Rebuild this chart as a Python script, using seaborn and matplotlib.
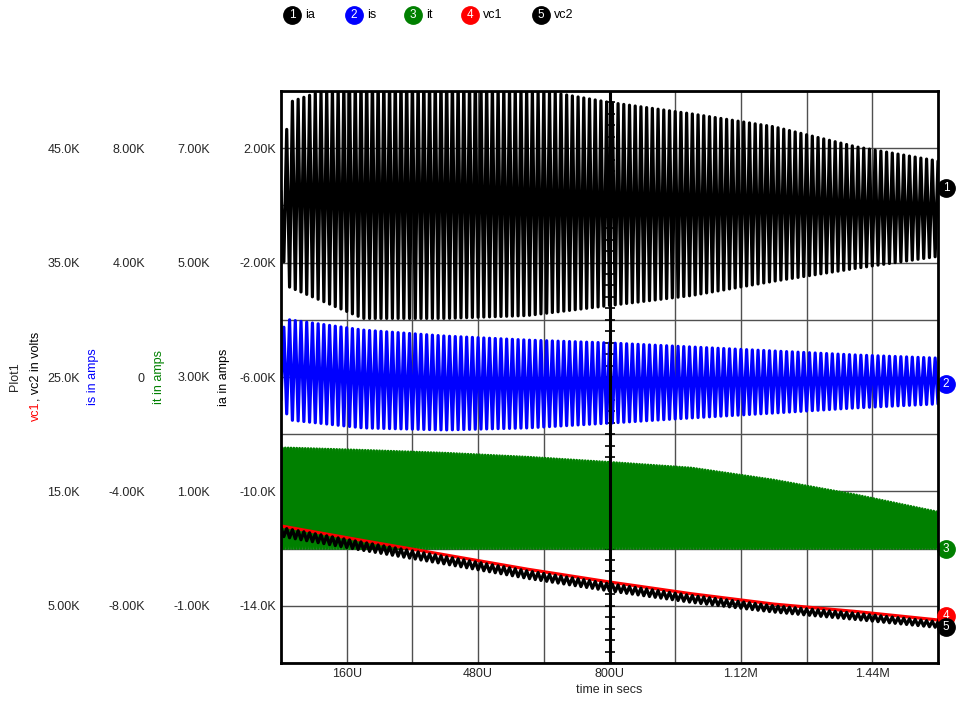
import numpy as np
import pandas as pd
import matplotlib
matplotlib.use("Agg")
import matplotlib.pyplot as plt
import seaborn as sns
from matplotlib.transforms import blended_transform_factory

# ---------------- data (currents/voltages in K, time in microseconds) ----------------
env_t = [0, 20, 200, 400, 600, 800, 1000, 1200, 1400, 1600]
ia_hi = [0.5, 3.6, 4.5, 4.5, 4.1, 3.6, 3.2, 2.75, 2.05, 1.55]
ia_lo = [-1.5, -2.85, -3.95, -3.95, -3.85, -3.5, -3.15, -2.65, -2.2, -1.78]
is_hi = [1.6, 2.0, 1.64, 1.43, 1.29, 1.19, 1.05, 0.91, 0.77, 0.66]
is_lo = [-0.8, -1.5, -1.78, -1.85, -1.78, -1.61, -1.43, -1.26, -1.08, -0.94]
it_hi = [1.76, 1.76, 1.72, 1.67, 1.60, 1.51, 1.41, 1.20, 0.94, 0.64]
it_lo = [0, 0, 0, 0, 0, 0, 0, 0, 0, 0]
vc1 = [11.98, 11.85, 10.70, 9.45, 8.20, 7.08, 6.05, 5.15, 4.50, 3.76]
vc2_hi = [11.85, 11.70, 10.55, 9.30, 8.05, 6.93, 5.90, 5.00, 4.35, 3.60]
vc2_lo = [11.10, 10.95, 9.85, 8.65, 7.40, 6.30, 5.30, 4.45, 3.80, 3.10]
n_cycles = 115

series_names = ["ia", "is", "it", "vc1", "vc2"]
series_colors = ["#000000", "#0000ff", "#008000", "#ff0000", "#000000"]
end_values = [0.61, -0.25, 0.0, 4.1, 3.15]

x_ticks = [160, 480, 800, 1120, 1440]
x_tick_labels = ["160U", "480U", "800U", "1.12M", "1.44M"]
x_grid = [320, 640, 960, 1280]

ia_ticks = [-14, -10, -6, -2, 2]
ia_labels = ["-14.0K", "-10.0K", "-6.00K", "-2.00K", "2.00K"]
it_ticks = [-1, 1, 3, 5, 7]
it_labels = ["-1.00K", "1.00K", "3.00K", "5.00K", "7.00K"]
is_ticks = [-8, -4, 0, 4, 8]
is_labels = ["-8.00K", "-4.00K", "0", "4.00K", "8.00K"]
vc_ticks = [5, 15, 25, 35, 45]
vc_labels = ["5.00K", "15.0K", "25.0K", "35.0K", "45.0K"]

# ---------------- build traces (alternate between read envelopes) ----------------
def zigzag(hi, lo, n_seg, start_lo=False):
    t = np.linspace(0, 1600, n_seg + 1)
    h = np.interp(t, env_t, hi)
    l = np.interp(t, env_t, lo)
    idx = np.arange(n_seg + 1) % 2
    if start_lo:
        y = np.where(idx == 0, l, h)
    else:
        y = np.where(idx == 0, h, l)
    return t, y

t_ia, y_ia = zigzag(ia_hi, ia_lo, 2 * n_cycles)
t_is, y_is = zigzag(is_hi, is_lo, 2 * n_cycles, start_lo=True)
t_it, y_it = zigzag(it_hi, it_lo, 4 * n_cycles, start_lo=True)
t_v2, y_v2 = zigzag(vc2_hi, vc2_lo, 2 * n_cycles)
df_ia = pd.DataFrame({"t": t_ia, "v": y_ia})
df_is = pd.DataFrame({"t": t_is, "v": y_is})
df_it = pd.DataFrame({"t": t_it, "v": y_it})
df_v1 = pd.DataFrame({"t": env_t, "v": vc1})
df_v2 = pd.DataFrame({"t": t_v2, "v": y_v2})

# ---------------- figure ----------------
sns.set_style("white")
plt.rcParams["font.family"] = ["Liberation Sans", "DejaVu Sans"]
FS = 9

W, H = 959, 702
fig = plt.figure(figsize=(W / 100, H / 100), dpi=100)
L, R, T, B = 281, 938, 91, 663
rect = [L / W, 1 - B / H, (R - L) / W, (B - T) / H]

ax_ia = fig.add_axes(rect)
ax_is = fig.add_axes(rect)
ax_it = fig.add_axes(rect)
ax_vc = fig.add_axes(rect)
all_axes = [ax_ia, ax_is, ax_it, ax_vc]

for a in all_axes:
    a.set_xlim(0, 1600)
    for s in a.spines.values():
        s.set_visible(False)
    a.tick_params(length=0, labelsize=FS)
    if a is not ax_ia:
        a.patch.set_visible(False)
        a.set_xticks([])

ax_ia.set_ylim(-16, 4)
ax_is.set_ylim(-10, 10)
ax_it.set_ylim(-2, 8)
ax_vc.set_ylim(0, 50)

# gridlines & ticks
ax_ia.set_xticks(x_ticks)
ax_ia.set_xticklabels(x_tick_labels)
ax_ia.set_xticks(x_grid, minor=True)
ax_ia.set_yticks(ia_ticks)
ax_ia.set_yticklabels(ia_labels)
ax_ia.set_yticks([-16, -12, -8, -4, 0, 4], minor=True)
ax_ia.tick_params(which="both", length=0)
ax_ia.grid(True, which="both", color="#505050", linewidth=1.0, zorder=0)
ax_ia.set_axisbelow(True)
ax_ia.tick_params(axis="x", pad=3.5)
ax_ia.tick_params(axis="y", pad=3.6)

ax_it.set_yticks(it_ticks)
ax_it.set_yticklabels(it_labels)
ax_it.tick_params(axis="y", pad=51)
ax_is.set_yticks(is_ticks)
ax_is.set_yticklabels(is_labels)
ax_is.tick_params(axis="y", pad=98)
ax_vc.set_yticks(vc_ticks)
ax_vc.set_yticklabels(vc_labels)
ax_vc.tick_params(axis="y", pad=144.7)

# ticks on the center axis (under the traces)
ax_ia.plot([800] * 51, np.linspace(-16, 4, 51), linestyle="none", marker="_",
           markersize=6.5, markeredgewidth=1.2, color="black", zorder=1)

lw = 2.3
sns.lineplot(data=df_ia, x="t", y="v", ax=ax_ia, color=series_colors[0], lw=lw,
             estimator=None, sort=False, legend=False)
sns.lineplot(data=df_is, x="t", y="v", ax=ax_is, color=series_colors[1], lw=lw,
             estimator=None, sort=False, legend=False)
sns.lineplot(data=df_it, x="t", y="v", ax=ax_it, color=series_colors[2], lw=2.0,
             estimator=None, sort=False, legend=False)
sns.lineplot(data=df_v1, x="t", y="v", ax=ax_vc, color=series_colors[3], lw=2.3,
             estimator=None, sort=False, legend=False)
sns.lineplot(data=df_v2, x="t", y="v", ax=ax_vc, color=series_colors[4], lw=2.3,
             estimator=None, sort=False, legend=False)
for a in all_axes:
    a.set_xlabel("")
    a.set_ylabel("")

# center axis and frame
ax_vc.axvline(800, color="black", lw=2.2, zorder=10)
for s in ax_vc.spines.values():
    s.set_visible(True)
    s.set_color("black")
    s.set_linewidth(2.0)
    s.set_zorder(11)

# end markers on right side
ends_axes = [ax_ia, ax_is, ax_it, ax_vc, ax_vc]
xm = 1 + 8 / (R - L)
for i, (a, val, col) in enumerate(zip(ends_axes, end_values, series_colors)):
    tr = blended_transform_factory(a.transAxes, a.transData)
    a.plot([xm], [val], marker="o", ms=12.5, color=col, transform=tr,
           clip_on=False, zorder=20 + 2 * i)
    a.text(xm, val, str(i + 1), color="white", fontsize=8.5, ha="center",
           va="center", transform=tr, zorder=21 + 2 * i, clip_on=False)

# legend across the top
leg_x = [292, 354, 413, 470, 541]
for i, (nm, col, x) in enumerate(zip(series_names, series_colors, leg_x)):
    fig.add_artist(plt.Line2D([x / W], [1 - 15 / H], marker="o", ms=12.5,
                              color=col, transform=fig.transFigure))
    fig.text(x / W, 1 - 15.5 / H, str(i + 1), color="white", fontsize=8.5,
             ha="center", va="center")
    fig.text((x + 13) / W, 1 - 15 / H, nm, color="black", fontsize=FS,
             ha="left", va="center")

# axis titles
ymid = 1 - 377 / H
fig.text(15 / W, ymid, "Plot1", rotation=90, ha="center", va="center", fontsize=FS)
ysplit = 1 - 401 / H
fig.text(36 / W, ysplit, "vc1", rotation=90, ha="center", va="top", fontsize=FS,
         color="#ff0000")
fig.text(36 / W, ysplit, ", vc2 in volts", rotation=90, ha="center", va="bottom",
         fontsize=FS, color="black")
fig.text(93 / W, ymid, "is in amps", rotation=90, ha="center", va="center",
         fontsize=FS, color="#0000ff")
fig.text(159 / W, ymid, "it in amps", rotation=90, ha="center", va="center",
         fontsize=FS, color="#008000")
fig.text(224 / W, ymid, "ia in amps", rotation=90, ha="center", va="center",
         fontsize=FS, color="black")
fig.text(609.5 / W, 1 - 690 / H, "time in secs", ha="center", va="center", fontsize=FS)

fig.savefig("out.png", dpi=100)
